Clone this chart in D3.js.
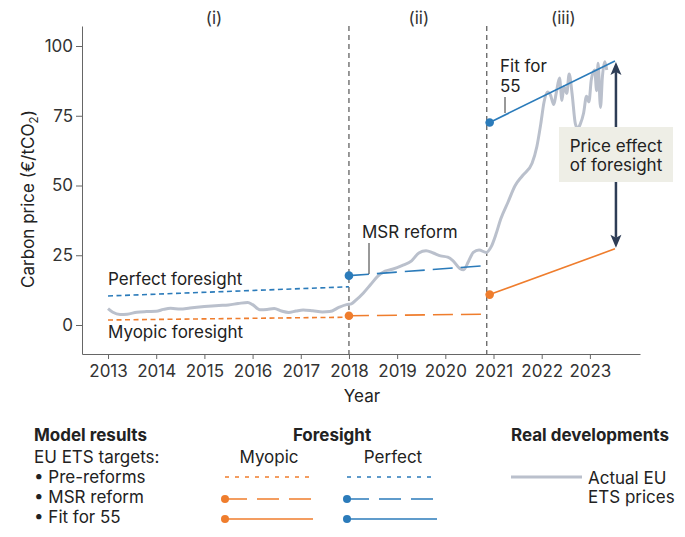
<!DOCTYPE html>
<html><head><meta charset="utf-8">
<script src="https://cdn.jsdelivr.net/npm/d3@7"></script>
<style>
body{margin:0;background:#fff;}
svg{display:block;font-family:Inter,"Noto Sans",sans-serif;}
</style></head>
<body><svg id="c" width="685" height="537"></svg>
<script>
// ---- data ----
const xTicks = [2013,2014,2015,2016,2017,2018,2019,2020,2021,2022,2023];
const yTicks = [0,25,50,75,100];
const periodLabels = ["(i)","(ii)","(iii)"];
const periodCenters = [2015.2, 2019.45, 2022.45];
const reformYears = [2018, 2020.86];
// model results [startYear, startValue, endYear, endValue]
const perfectPre = [2013, 10.4, 2018, 13.7];
const myopicPre  = [2013, 1.8, 2018, 2.8];
const perfectMSR = [2018, 17.7, 2020.86, 21.3];
const myopicMSR  = [2018, 3.3, 2020.86, 3.9];
const perfectFit = [2020.92, 72.6, 2023.52, 94.6];
const myopicFit  = [2020.92, 10.9, 2023.52, 27.3];
// actual EU ETS prices
const actualYears = [2013.00,2013.10,2013.25,2013.40,2013.6,2013.8,2014.0,2014.15,2014.3,2014.5,2014.7,2015.0,2015.3,2015.5,2015.7,2015.9,2016.0,2016.15,2016.3,2016.45,2016.6,2016.75,2016.9,2017.05,2017.25,2017.45,2017.6,2017.8,2017.95,2018.05,2018.15,2018.3,2018.45,2018.6,2018.75,2018.9,2019.1,2019.3,2019.45,2019.6,2019.75,2019.9,2020.05,2020.15,2020.3,2020.38,2020.48,2020.58,2020.7,2020.85,2020.95,2021.05,2021.15,2021.3,2021.45,2021.6,2021.8,2021.9,2021.98,2022.05,2022.12,2022.18,2022.25,2022.3,2022.37,2022.42,2022.46,2022.52,2022.57,2022.63,2022.7,2022.75,2022.8,2022.87,2022.93,2022.98,2023.03,2023.1,2023.14,2023.17,2023.22,2023.26,2023.31,2023.35];
const actualPrices = [5.9,4.6,3.8,3.9,4.6,4.8,4.9,5.6,6.0,5.7,6.1,6.6,7.0,7.2,7.7,8.1,7.3,5.5,5.6,5.9,5.0,4.5,5.0,5.4,5.1,4.7,4.8,6.4,7.3,7.6,9.0,11.5,14.5,17.5,19.3,20.0,21.3,23.0,25.8,26.6,25.8,24.8,24.3,23.2,20.3,19.8,22.8,26.0,26.9,26.0,28.0,32.5,38,44,50,53.5,58,64,72,80,83.5,82.5,79,83,88.5,80.5,85.5,83,90,83,72,70.5,72,76,82,80,88,91.4,84,93.8,78,89,94.4,91.4];

// ---- styles ----
const BLUE="#2b7bba", ORANGE="#ef7d2d", GRAY="#bac0cc", NAVY="#2e3d56", TXT="#222";
const DASH_PRE="5,3.5", DASH_MSR="20,8";
const FS="17px";

const svg = d3.select("#c");
const x = d3.scaleLinear().domain([2012.46, 2024.04]).range([82, 640]);
const y = d3.scaleLinear().domain([-10.39, 107.17]).range([354, 26]);

// axes
const yAxis = svg.append("g").attr("transform","translate(82,0)")
  .call(d3.axisLeft(y).tickValues(yTicks).tickSize(6).tickPadding(3).tickSizeOuter(0));
const xAxis = svg.append("g").attr("transform","translate(0,354)")
  .call(d3.axisBottom(x).tickValues(xTicks).tickFormat(d3.format("d")).tickSize(5).tickPadding(6).tickSizeOuter(0));
[yAxis,xAxis].forEach(g=>{
  g.select(".domain").attr("stroke","#666");
  g.selectAll(".tick line").attr("stroke","#666");
  g.selectAll(".tick text").attr("fill","#333").style("font-size",FS).style("font-family","Inter");
});

// reform vertical lines
svg.selectAll(".vl").data(reformYears).join("line")
  .attr("x1",d=>x(d)).attr("x2",d=>x(d)).attr("y1",y(107.17)).attr("y2",354)
  .attr("stroke","#555").attr("stroke-width",1.2).attr("stroke-dasharray","5,4");

// period labels
svg.selectAll(".pl").data(periodLabels).join("text")
  .attr("x",(d,i)=>x(periodCenters[i])).attr("y",24).attr("text-anchor","middle")
  .attr("fill","#333").style("font-size",FS).text(d=>d);

// actual price line
const actual = actualYears.map((yr,i)=>[yr,actualPrices[i]]);
svg.append("path").datum(actual)
  .attr("d",d3.line().x(d=>x(d[0])).y(d=>y(d[1])).curve(d3.curveMonotoneX))
  .attr("fill","none").attr("stroke",GRAY).attr("stroke-width",3).attr("stroke-linejoin","round");

// model lines
function seg(s,color,dash,dot){
  svg.append("line").attr("x1",x(s[0])).attr("y1",y(s[1])).attr("x2",x(s[2])).attr("y2",y(s[3]))
    .attr("stroke",color).attr("stroke-width",1.6).attr("stroke-dasharray",dash||null);
  if(dot) svg.append("circle").attr("cx",x(s[0])).attr("cy",y(s[1])).attr("r",4.3).attr("fill",color);
}
seg(perfectPre,BLUE,DASH_PRE,false);
seg(myopicPre,ORANGE,DASH_PRE,false);
seg(perfectMSR,BLUE,DASH_MSR,true);
seg(myopicMSR,ORANGE,DASH_MSR,true);
seg(perfectFit,BLUE,null,true);
seg(myopicFit,ORANGE,null,true);

// double arrow
const ax = x(perfectFit[2])+1;
const yTop = y(perfectFit[3])+1, yBot = y(myopicFit[3])-1;
svg.append("line").attr("x1",ax).attr("x2",ax).attr("y1",yTop+10).attr("y2",yBot-10)
  .attr("stroke",NAVY).attr("stroke-width",2.5);
svg.append("path").attr("d",`M${ax},${yTop} L${ax-5.5},${yTop+13} L${ax},${yTop+10} L${ax+5.5},${yTop+13} Z`).attr("fill",NAVY);
svg.append("path").attr("d",`M${ax},${yBot} L${ax-5.5},${yBot-13} L${ax},${yBot-10} L${ax+5.5},${yBot-13} Z`).attr("fill",NAVY);

// box (over arrow, behind text)
svg.append("rect").attr("x",559).attr("y",127).attr("width",114).attr("height",55).attr("fill","#eeeee6");

// annotations
const ann = svg.append("g").attr("fill",TXT).style("font-size",FS);
ann.append("text").attr("x",108).attr("y",285).text("Perfect foresight");
ann.append("text").attr("x",108).attr("y",338).text("Myopic foresight");
ann.append("text").attr("x",362).attr("y",238).text("MSR reform");
ann.append("text").attr("x",500).attr("y",72).text("Fit for");
ann.append("text").attr("x",500).attr("y",92).text("55");
ann.append("text").attr("x",616).attr("y",152).attr("text-anchor","middle").text("Price effect");
ann.append("text").attr("x",616).attr("y",171).attr("text-anchor","middle").text("of foresight");
svg.append("line").attr("x1",369).attr("x2",369).attr("y1",243).attr("y2",274).attr("stroke","#333").attr("stroke-width",1);
svg.append("line").attr("x1",505).attr("x2",505).attr("y1",97).attr("y2",113).attr("stroke","#333").attr("stroke-width",1);

// axis titles
svg.append("text").attr("x",362).attr("y",402).attr("text-anchor","middle").attr("fill",TXT)
  .style("font-size",FS).text("Year");
const yl = svg.append("text").attr("transform","translate(34,199) rotate(-90)").attr("text-anchor","middle")
  .attr("fill",TXT).style("font-size",FS);
yl.append("tspan").text("Carbon price (€/tCO");
yl.append("tspan").attr("dy",4).style("font-size","12px").text("2");
yl.append("tspan").attr("dy",-4).text(")");

// ---- legend ----
const lg = svg.append("g").attr("fill",TXT).style("font-size",FS);
lg.append("text").attr("x",34).attr("y",441).style("font-weight","bold").text("Model results");
lg.append("text").attr("x",332).attr("y",441).attr("text-anchor","middle").style("font-weight","bold").text("Foresight");
lg.append("text").attr("x",511).attr("y",441).style("font-weight","bold").text("Real developments");
lg.append("text").attr("x",34).attr("y",463).text("EU ETS targets:");
lg.append("text").attr("x",34).attr("y",483).text("• Pre-reforms");
lg.append("text").attr("x",34).attr("y",503).text("• MSR reform");
lg.append("text").attr("x",34).attr("y",523).text("• Fit for 55");
lg.append("text").attr("x",269).attr("y",463).attr("text-anchor","middle").text("Myopic");
lg.append("text").attr("x",393).attr("y",463).attr("text-anchor","middle").text("Perfect");
lg.append("text").attr("x",588).attr("y",484).text("Actual EU");
lg.append("text").attr("x",588).attr("y",503).text("ETS prices");

const legendRows = [{yy:477,dash:"4,6",dot:false},{yy:499,dash:"22,10",dot:true},{yy:519,dash:null,dot:true}];
[[225,313,ORANGE],[347,437,BLUE]].forEach(([x0,x1,c])=>{
  legendRows.forEach(r=>{
    svg.append("line").attr("x1",x0).attr("x2",x1).attr("y1",r.yy).attr("y2",r.yy)
      .attr("stroke",c).attr("stroke-width",1.6).attr("stroke-dasharray",r.dash);
    if(r.dot) svg.append("circle").attr("cx",x0).attr("cy",r.yy).attr("r",4).attr("fill",c);
  });
});
svg.append("line").attr("x1",511).attr("x2",582).attr("y1",477).attr("y2",477).attr("stroke",GRAY).attr("stroke-width",3);
</script></body></html>
